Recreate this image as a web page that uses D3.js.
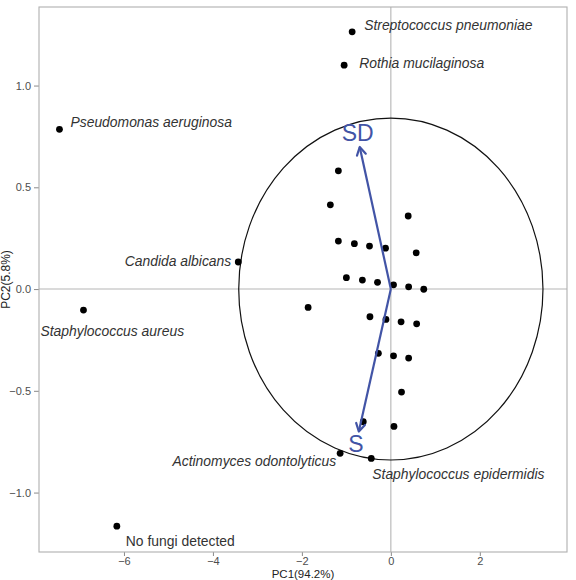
<!DOCTYPE html>
<html>
<head>
<meta charset="utf-8">
<script src="https://cdn.jsdelivr.net/npm/d3@7"></script>
<style>
  body { margin: 0; background: #fff; }
  svg { display: block; font-family: "Liberation Sans", Arial, sans-serif; }
</style>
</head>
<body>
<div class="biplot"></div>
<script>
// labelled samples
var labelNames = ['Streptococcus pneumoniae', 'Rothia mucilaginosa', 'Pseudomonas aeruginosa',
  'Candida albicans', 'Staphylococcus aureus', 'Actinomyces odontolyticus',
  'Staphylococcus epidermidis', 'No fungi detected'];
var labelPC1 = [-0.87, -1.05, -7.45, -3.43, -6.91, -1.14, -0.44, -6.16];
var labelPC2 = [1.264, 1.10, 0.785, 0.133, -0.103, -0.807, -0.832, -1.165];

// unlabelled samples
var otherPC1 = [-1.18, -1.36, 0.39, -1.18, -0.82, -0.48, -0.12, 0.57, -1.00, -0.64, -0.30, 0.06,
  0.40, 0.74, -1.86, -0.47, -0.11, 0.23, 0.58, -0.28, 0.06, 0.40, 0.24, -0.62, 0.07];
var otherPC2 = [0.581, 0.414, 0.359, 0.236, 0.223, 0.211, 0.201, 0.178, 0.056, 0.044, 0.033, 0.021,
  0.011, -0.001, -0.090, -0.136, -0.149, -0.161, -0.171, -0.316, -0.328, -0.339, -0.506, -0.652, -0.675];

// loading vectors
var loadNames = ['SD', 'S'];
var loadPC1 = [-0.70, -0.72];
var loadPC2 = [0.698, -0.70];

// ellipse radii (data units)
var ellipseR = [3.42, 0.84];

var xTicks = [-6, -4, -2, 0, 2];
var yTicks = [-1.0, -0.5, 0.0, 0.5, 1.0];

// label placement (px offsets from the point)
var labelPos = {
  'Streptococcus pneumoniae': [12, -2, 'start'],
  'Rothia mucilaginosa': [15, 3, 'start'],
  'Pseudomonas aeruginosa': [11, -2, 'start'],
  'Candida albicans': [-7, 4, 'end'],
  'Staphylococcus aureus': [-43, 26, 'start'],
  'Actinomyces odontolyticus': [-4, 13, 'end'],
  'Staphylococcus epidermidis': [1, 21, 'start'],
  'No fungi detected': [9, 20, 'start']
};
var loadLabelPos = { 'SD': [-2, -14], 'S': [-3, 12] };

var width = 576, height = 580;
var panel = { left: 39, right: 567, top: 7, bottom: 552 };
var blue = '#4254a6';

var x = d3.scaleLinear().domain([-7.91, 3.96]).range([panel.left, panel.right]);
var y = d3.scaleLinear().domain([-1.292, 1.386]).range([panel.bottom, panel.top]);

var svg = d3.select('.biplot').append('svg')
    .attr('width', width)
    .attr('height', height);

// zero lines
svg.append('line')
    .attr('x1', x(0)).attr('x2', x(0))
    .attr('y1', panel.top).attr('y2', panel.bottom)
    .attr('stroke', '#b5b5b5').attr('stroke-width', 1.1);
svg.append('line')
    .attr('x1', panel.left).attr('x2', panel.right)
    .attr('y1', y(0)).attr('y2', y(0))
    .attr('stroke', '#b5b5b5').attr('stroke-width', 1.1);

// axes
var xAxis = svg.append('g')
    .attr('transform', 'translate(0,' + panel.bottom + ')')
    .call(d3.axisBottom(x).tickValues(xTicks).tickSize(4).tickPadding(1)
      .tickFormat(function(d) { return d < 0 ? '\u2212' + Math.abs(d) : d; }));
var yAxis = svg.append('g')
    .attr('transform', 'translate(' + panel.left + ',0)')
    .call(d3.axisLeft(y).tickValues(yTicks).tickSize(5).tickPadding(3)
      .tickFormat(function(d) { return d < 0 ? '\u2212' + Math.abs(d).toFixed(1) : d.toFixed(1); }));
[xAxis, yAxis].forEach(function(g) {
  g.select('.domain').remove();
  g.selectAll('line').attr('stroke', '#8a8a8a');
  g.selectAll('text').attr('fill', '#4d4d4d').style('font-size', '11px')
    .style('font-family', '"Liberation Sans", Arial, sans-serif');
});

// panel border
svg.append('rect')
    .attr('x', panel.left).attr('y', panel.top)
    .attr('width', panel.right - panel.left).attr('height', panel.bottom - panel.top)
    .attr('fill', 'none').attr('stroke', '#b0b0b0').attr('stroke-width', 1.1);

// axis titles
svg.append('text')
    .attr('x', (panel.left + panel.right) / 2).attr('y', 578)
    .attr('text-anchor', 'middle').attr('fill', '#222').style('font-size', '11.5px')
    .text('PC1(94.2%)');
svg.append('text')
    .attr('transform', 'translate(10,' + (panel.top + panel.bottom) / 2 + ') rotate(-90)')
    .attr('text-anchor', 'middle').attr('fill', '#222').style('font-size', '12px')
    .text('PC2(5.8%)');

// ellipse
svg.append('ellipse')
    .attr('cx', x(0)).attr('cy', y(0))
    .attr('rx', x(ellipseR[0]) - x(0)).attr('ry', y(0) - y(ellipseR[1]))
    .attr('fill', 'none').attr('stroke', '#111').attr('stroke-width', 1.2);

// points
var pts = otherPC1.map(function(v, i) { return [v, otherPC2[i]]; })
  .concat(labelPC1.map(function(v, i) { return [v, labelPC2[i]]; }));
svg.selectAll('circle.pt').data(pts).enter().append('circle')
    .attr('class', 'pt')
    .attr('cx', function(d) { return x(d[0]); })
    .attr('cy', function(d) { return y(d[1]); })
    .attr('r', 3.4)
    .attr('fill', '#000');

// point labels
labelNames.forEach(function(name, i) {
  var p = labelPos[name];
  svg.append('text')
      .attr('x', x(labelPC1[i]) + p[0])
      .attr('y', y(labelPC2[i]) + p[1])
      .attr('text-anchor', p[2])
      .attr('fill', '#333')
      .style('font-size', '13.9px')
      .style('font-style', name === 'No fungi detected' ? 'normal' : 'italic')
      .text(name);
});

// loading arrows
loadNames.forEach(function(name, i) {
  var x0 = x(0), y0 = y(0), x1 = x(loadPC1[i]), y1 = y(loadPC2[i]);
  svg.append('line')
      .attr('x1', x0).attr('y1', y0).attr('x2', x1).attr('y2', y1)
      .attr('stroke', blue).attr('stroke-width', 2.2);
  var ang = Math.atan2(y1 - y0, x1 - x0), len = 9, spread = Math.PI / 6;
  var head = 'M' + (x1 - len * Math.cos(ang - spread)) + ',' + (y1 - len * Math.sin(ang - spread)) +
    'L' + x1 + ',' + y1 +
    'L' + (x1 - len * Math.cos(ang + spread)) + ',' + (y1 - len * Math.sin(ang + spread));
  svg.append('path').attr('d', head)
      .attr('fill', 'none').attr('stroke', blue).attr('stroke-width', 2.2)
      .attr('stroke-linejoin', 'round').attr('stroke-linecap', 'round');
  var lp = loadLabelPos[name];
  svg.append('text')
      .attr('x', x1 + lp[0]).attr('y', y1 + lp[1])
      .attr('text-anchor', 'middle').attr('dominant-baseline', 'central')
      .attr('fill', blue).style('font-size', '23px')
      .text(name);
});
</script>
</body>
</html>
